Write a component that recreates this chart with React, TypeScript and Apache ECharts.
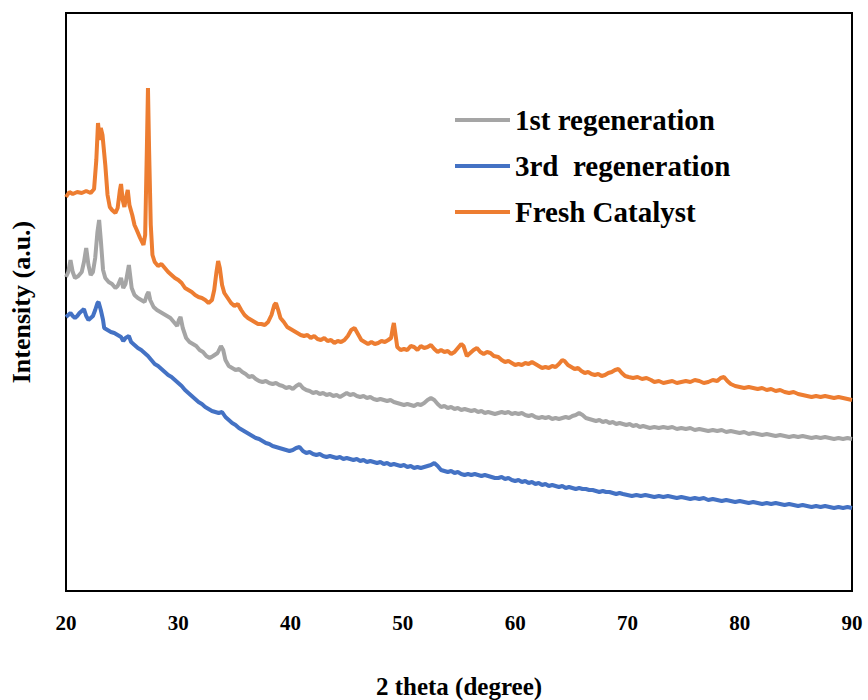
import React, { useEffect, useRef } from "react";
import * as echarts from "echarts";

// X-ray diffraction patterns: [2θ (degree), intensity (a.u.)]
const xTicks = [20, 30, 40, 50, 60, 70, 80, 90];
const seriesNames = ["1st regeneration", "3rd  regeneration", "Fresh Catalyst"];
const seriesColors = ["#A5A5A5", "#4472C4", "#ED7D31"];

const freshCatalyst: [number, number][] = [
  [20.0, 394], [20.3, 399], [20.6, 397], [21.0, 399], [21.4, 398], [21.8, 400], [22.2, 398], [22.5, 402],
  [22.7, 431], [22.85, 468], [23.0, 451], [23.1, 463], [23.25, 456], [23.5, 426], [23.7, 396], [23.9, 384],
  [24.1, 381], [24.4, 378], [24.6, 383], [24.8, 401], [24.9, 407], [25.05, 391], [25.2, 384], [25.4, 396],
  [25.5, 401], [25.65, 386], [25.9, 376], [26.1, 366], [26.3, 361], [26.6, 353], [26.9, 346], [27.05, 356],
  [27.2, 441], [27.3, 503], [27.4, 441], [27.55, 366], [27.7, 336], [27.9, 329], [28.2, 325], [28.5, 327],
  [28.8, 323], [29.1, 319], [29.4, 316], [29.7, 313], [30.0, 311], [30.3, 308], [30.6, 303], [30.9, 301],
  [31.2, 299], [31.5, 296], [31.8, 294], [32.1, 293], [32.4, 291], [32.7, 288], [33.0, 291], [33.2, 301],
  [33.4, 319], [33.55, 330], [33.7, 323], [33.9, 306], [34.1, 298], [34.4, 293], [34.7, 288], [35.0, 285],
  [35.3, 287], [35.6, 281], [35.9, 276], [36.2, 273], [36.5, 271], [36.8, 269], [37.1, 267], [37.4, 267],
  [37.7, 266], [38.0, 269], [38.3, 276], [38.55, 286], [38.7, 288], [38.9, 281], [39.1, 273], [39.4, 269],
  [39.7, 264], [40.0, 262], [40.3, 260], [40.6, 258], [40.9, 256], [41.2, 255], [41.5, 256], [41.8, 253],
  [42.1, 255], [42.4, 252], [42.7, 251], [43.0, 253], [43.3, 250], [43.6, 251], [43.9, 248], [44.2, 250],
  [44.5, 249], [44.8, 251], [45.1, 255], [45.4, 261], [45.7, 263], [46.0, 257], [46.3, 251], [46.6, 249],
  [46.9, 247], [47.2, 249], [47.5, 247], [47.8, 248], [48.1, 250], [48.4, 249], [48.7, 251], [48.95, 253],
  [49.1, 263], [49.2, 268], [49.35, 256], [49.5, 244], [49.8, 241], [50.1, 242], [50.4, 241], [50.7, 245],
  [51.0, 244], [51.3, 241], [51.6, 245], [51.9, 243], [52.2, 244], [52.5, 246], [52.8, 242], [53.1, 239],
  [53.4, 241], [53.7, 239], [54.0, 240], [54.3, 237], [54.6, 239], [54.9, 243], [55.2, 247], [55.4, 245],
  [55.7, 235], [56.0, 238], [56.3, 241], [56.6, 243], [56.9, 239], [57.2, 237], [57.5, 239], [57.8, 238],
  [58.1, 235], [58.5, 234], [58.8, 231], [59.1, 229], [59.4, 230], [59.7, 228], [60.0, 226], [60.3, 227],
  [60.6, 226], [60.9, 228], [61.2, 227], [61.5, 229], [61.8, 227], [62.1, 225], [62.4, 223], [62.7, 224],
  [63.0, 223], [63.3, 225], [63.6, 224], [63.9, 227], [64.2, 231], [64.4, 230], [64.7, 226], [65.0, 224],
  [65.3, 222], [65.6, 223], [65.9, 220], [66.2, 218], [66.5, 219], [66.8, 217], [67.1, 216], [67.4, 217],
  [67.7, 215], [68.0, 216], [68.3, 218], [68.6, 219], [68.9, 221], [69.2, 222], [69.5, 218], [69.8, 215],
  [70.1, 214], [70.5, 213], [70.9, 214], [71.3, 212], [71.7, 213], [72.1, 211], [72.4, 209], [72.8, 210],
  [73.2, 208], [73.6, 209], [74.0, 210], [74.4, 208], [74.8, 209], [75.2, 210], [75.6, 209], [76.0, 211],
  [76.4, 210], [76.8, 208], [77.2, 209], [77.6, 211], [78.0, 210], [78.3, 213], [78.6, 214], [78.9, 210],
  [79.2, 207], [79.6, 205], [80.0, 204], [80.4, 203], [80.8, 204], [81.2, 203], [81.6, 202], [82.0, 203],
  [82.4, 201], [82.8, 202], [83.2, 200], [83.6, 201], [84.0, 199], [84.4, 198], [84.8, 199], [85.2, 197],
  [85.6, 196], [86.0, 195], [86.4, 194], [86.8, 195], [87.2, 194], [87.6, 195], [88.0, 194], [88.4, 193],
  [88.8, 194], [89.2, 193], [89.6, 192], [90.0, 191],
];

const firstRegeneration: [number, number][] = [
  [20.0, 314], [20.2, 319], [20.4, 331], [20.6, 319], [20.8, 313], [21.1, 315], [21.4, 319], [21.6, 329],
  [21.8, 343], [22.0, 326], [22.2, 316], [22.4, 319], [22.6, 333], [22.8, 359], [22.95, 371], [23.1, 351],
  [23.3, 321], [23.5, 313], [23.8, 309], [24.1, 307], [24.4, 303], [24.6, 305], [24.9, 313], [25.1, 303],
  [25.3, 307], [25.6, 326], [25.85, 303], [26.1, 296], [26.4, 293], [26.7, 291], [27.0, 289], [27.2, 296],
  [27.35, 299], [27.5, 291], [27.8, 284], [28.1, 281], [28.4, 279], [28.7, 277], [29.0, 275], [29.3, 273],
  [29.6, 269], [29.9, 265], [30.05, 271], [30.2, 274], [30.4, 263], [30.7, 253], [31.0, 249], [31.3, 247],
  [31.6, 245], [31.9, 241], [32.2, 239], [32.5, 235], [32.8, 233], [33.1, 235], [33.5, 238], [33.8, 245],
  [34.0, 241], [34.2, 231], [34.5, 225], [34.8, 223], [35.1, 221], [35.4, 222], [35.7, 219], [36.0, 217],
  [36.3, 214], [36.6, 215], [36.9, 212], [37.2, 210], [37.5, 209], [37.8, 210], [38.1, 208], [38.4, 207],
  [38.7, 208], [39.0, 206], [39.3, 205], [39.6, 203], [39.9, 204], [40.2, 202], [40.5, 205], [40.8, 207],
  [41.1, 203], [41.4, 201], [41.7, 200], [42.0, 198], [42.3, 199], [42.6, 197], [42.9, 198], [43.2, 196],
  [43.5, 197], [43.8, 195], [44.1, 196], [44.4, 194], [44.7, 196], [45.0, 198], [45.3, 196], [45.6, 197],
  [45.9, 195], [46.2, 194], [46.5, 195], [46.8, 193], [47.1, 194], [47.4, 192], [47.7, 191], [48.0, 192],
  [48.3, 191], [48.6, 190], [48.9, 191], [49.2, 189], [49.5, 188], [49.8, 187], [50.1, 186], [50.4, 187],
  [50.7, 186], [51.0, 185], [51.3, 187], [51.6, 186], [51.9, 188], [52.2, 191], [52.5, 193], [52.8, 191],
  [53.1, 187], [53.4, 184], [53.7, 185], [54.0, 183], [54.3, 184], [54.6, 182], [54.9, 183], [55.2, 181],
  [55.5, 182], [55.8, 181], [56.1, 180], [56.4, 181], [56.7, 179], [57.0, 180], [57.3, 178], [57.6, 179],
  [57.9, 178], [58.2, 177], [58.5, 178], [58.8, 179], [59.1, 178], [59.4, 179], [59.7, 177], [60.0, 178],
  [60.3, 177], [60.6, 178], [60.9, 176], [61.2, 175], [61.5, 176], [61.8, 174], [62.1, 173], [62.4, 174],
  [62.7, 173], [63.0, 174], [63.3, 172], [63.6, 173], [63.9, 172], [64.2, 173], [64.5, 174], [64.8, 173],
  [65.1, 175], [65.4, 176], [65.7, 178], [66.0, 176], [66.3, 173], [66.6, 172], [66.9, 171], [67.2, 170],
  [67.5, 171], [67.8, 169], [68.1, 170], [68.4, 168], [68.7, 169], [69.0, 167], [69.3, 168], [69.6, 167],
  [69.9, 166], [70.2, 167], [70.5, 165], [70.8, 166], [71.1, 164], [71.4, 165], [71.7, 164], [72.0, 163],
  [72.4, 164], [72.8, 163], [73.2, 164], [73.6, 163], [74.0, 164], [74.4, 162], [74.8, 163], [75.2, 162],
  [75.6, 163], [76.0, 161], [76.4, 162], [76.8, 161], [77.2, 160], [77.6, 161], [78.0, 160], [78.4, 161],
  [78.8, 159], [79.2, 160], [79.6, 159], [80.0, 158], [80.4, 159], [80.8, 157], [81.2, 158], [81.6, 157],
  [82.0, 156], [82.4, 157], [82.8, 156], [83.2, 155], [83.6, 156], [84.0, 155], [84.4, 154], [84.8, 155],
  [85.2, 154], [85.6, 155], [86.0, 154], [86.4, 153], [86.8, 154], [87.2, 153], [87.6, 154], [88.0, 153],
  [88.4, 152], [88.8, 153], [89.2, 152], [89.6, 153], [90.0, 152],
];

const thirdRegeneration: [number, number][] = [
  [20.0, 274], [20.2, 276], [20.4, 278], [20.6, 275], [20.8, 273], [21.0, 275], [21.2, 278], [21.4, 280],
  [21.6, 282], [21.8, 275], [22.0, 271], [22.2, 273], [22.4, 275], [22.6, 281], [22.8, 288], [22.9, 289],
  [23.1, 281], [23.3, 271], [23.4, 263], [23.7, 261], [24.0, 259], [24.3, 258], [24.6, 256], [24.9, 254],
  [25.1, 250], [25.3, 253], [25.6, 255], [25.8, 249], [26.1, 246], [26.4, 243], [26.7, 241], [27.0, 238],
  [27.3, 235], [27.6, 231], [27.9, 227], [28.2, 225], [28.5, 222], [28.8, 219], [29.1, 216], [29.4, 214],
  [29.7, 211], [30.0, 208], [30.3, 205], [30.6, 201], [30.9, 198], [31.2, 195], [31.5, 192], [31.8, 189],
  [32.1, 187], [32.4, 184], [32.7, 182], [33.0, 180], [33.3, 179], [33.6, 178], [33.9, 179], [34.2, 174],
  [34.5, 171], [34.8, 168], [35.1, 166], [35.4, 163], [35.7, 161], [36.0, 159], [36.3, 157], [36.6, 155],
  [36.9, 153], [37.2, 152], [37.5, 150], [37.8, 148], [38.1, 147], [38.4, 145], [38.7, 144], [39.0, 143],
  [39.3, 142], [39.6, 141], [39.9, 140], [40.2, 141], [40.5, 143], [40.8, 144], [41.1, 140], [41.4, 138],
  [41.7, 139], [42.0, 137], [42.3, 136], [42.6, 137], [42.9, 135], [43.2, 134], [43.5, 135], [43.8, 134],
  [44.1, 133], [44.4, 134], [44.7, 132], [45.0, 133], [45.3, 132], [45.6, 131], [45.9, 132], [46.2, 130],
  [46.5, 131], [46.8, 129], [47.1, 130], [47.4, 129], [47.7, 128], [48.0, 129], [48.3, 127], [48.6, 128],
  [48.9, 126], [49.2, 127], [49.5, 126], [49.8, 125], [50.1, 126], [50.4, 124], [50.7, 125], [51.0, 123],
  [51.3, 124], [51.6, 123], [51.9, 124], [52.2, 125], [52.5, 126], [52.8, 128], [53.1, 125], [53.4, 121],
  [53.7, 120], [54.0, 119], [54.3, 120], [54.6, 118], [54.9, 119], [55.2, 117], [55.5, 116], [55.8, 117],
  [56.1, 116], [56.4, 117], [56.7, 116], [57.0, 115], [57.3, 116], [57.6, 115], [57.9, 114], [58.2, 113],
  [58.5, 113], [58.8, 114], [59.1, 112], [59.4, 113], [59.7, 111], [60.0, 110], [60.3, 111], [60.6, 109],
  [60.9, 110], [61.2, 108], [61.5, 109], [61.8, 107], [62.1, 108], [62.4, 106], [62.7, 107], [63.0, 105],
  [63.3, 106], [63.6, 105], [63.9, 104], [64.2, 105], [64.5, 103], [64.8, 104], [65.1, 103], [65.4, 102],
  [65.7, 103], [66.0, 102], [66.3, 102], [66.6, 101], [66.9, 101], [67.2, 100], [67.5, 99], [67.8, 100],
  [68.1, 99], [68.4, 99], [68.7, 98], [69.0, 97], [69.3, 98], [69.6, 97], [70.0, 96], [70.4, 95],
  [70.8, 96], [71.2, 95], [71.6, 96], [72.0, 95], [72.4, 94], [72.8, 95], [73.2, 94], [73.6, 95],
  [74.0, 94], [74.4, 93], [74.8, 94], [75.2, 93], [75.6, 92], [76.0, 93], [76.4, 92], [76.8, 93],
  [77.2, 91], [77.6, 92], [78.0, 91], [78.4, 90], [78.8, 91], [79.2, 90], [79.6, 89], [80.0, 90],
  [80.4, 89], [80.8, 88], [81.2, 89], [81.6, 88], [82.0, 87], [82.4, 88], [82.8, 87], [83.2, 88],
  [83.6, 87], [84.0, 86], [84.4, 87], [84.8, 86], [85.2, 85], [85.6, 86], [86.0, 85], [86.4, 84],
  [86.8, 85], [87.2, 84], [87.6, 85], [88.0, 84], [88.4, 83], [88.8, 84], [89.2, 83], [89.6, 84],
  [90.0, 83],
];

const seriesData = [firstRegeneration, thirdRegeneration, freshCatalyst];

const serif = "'Times New Roman', 'Liberation Serif', serif";

export default function App() {
  const ref = useRef<HTMLDivElement>(null);

  useEffect(() => {
    if (!ref.current) return;
    const chart = echarts.init(ref.current, undefined, { renderer: "svg" });
    chart.setOption({
      animation: false,
      backgroundColor: "#ffffff",
      grid: {
        left: 66,
        right: 16,
        top: 13,
        bottom: 109,
        containLabel: false,
        outerBoundsMode: "none",
        show: true,
        borderColor: "#000000",
        borderWidth: 2,
        backgroundColor: "transparent",
      },
      legend: {
        orient: "vertical",
        left: 455,
        top: 104,
        padding: 0,
        itemWidth: 55,
        itemHeight: 4,
        itemGap: 14,
        icon: "rect",
        data: seriesNames,
        textStyle: {
          fontFamily: serif,
          fontWeight: "bold",
          fontSize: 29,
          lineHeight: 32,
          color: "#000000",
        },
      },
      xAxis: {
        type: "value",
        min: xTicks[0],
        max: xTicks[xTicks.length - 1],
        interval: 10,
        name: "2 theta (degree)",
        nameLocation: "middle",
        nameGap: 83,
        nameTextStyle: {
          fontFamily: serif,
          fontWeight: "bold",
          fontSize: 25,
          color: "#000000",
        },
        axisLine: { show: true, onZero: false, lineStyle: { color: "#000000", width: 2 } },
        axisTick: { show: false },
        splitLine: { show: false },
        axisLabel: {
          margin: 21,
          fontFamily: serif,
          fontWeight: "bold",
          fontSize: 21,
          color: "#000000",
        },
      },
      yAxis: {
        type: "value",
        min: 0,
        max: 578,
        name: "Intensity (a.u.)",
        nameLocation: "middle",
        nameGap: 32,
        nameTextStyle: {
          fontFamily: serif,
          fontWeight: "bold",
          fontSize: 26,
          color: "#000000",
        },
        axisLine: { show: true, lineStyle: { color: "#000000", width: 2 } },
        axisTick: { show: false },
        axisLabel: { show: false },
        splitLine: { show: false },
      },
      series: seriesNames.map((name, i) => ({
        name,
        type: "line",
        data: seriesData[i],
        symbol: "none",
        showSymbol: false,
        color: seriesColors[i],
        lineStyle: { color: seriesColors[i], width: 4 },
        z: 2 + i,
      })),
    });
    return () => chart.dispose();
  }, []);

  return (
    <div
      ref={ref}
      style={{ position: "fixed", left: 0, top: 0, width: 868, height: 700, background: "#fff" }}
    />
  );
}
